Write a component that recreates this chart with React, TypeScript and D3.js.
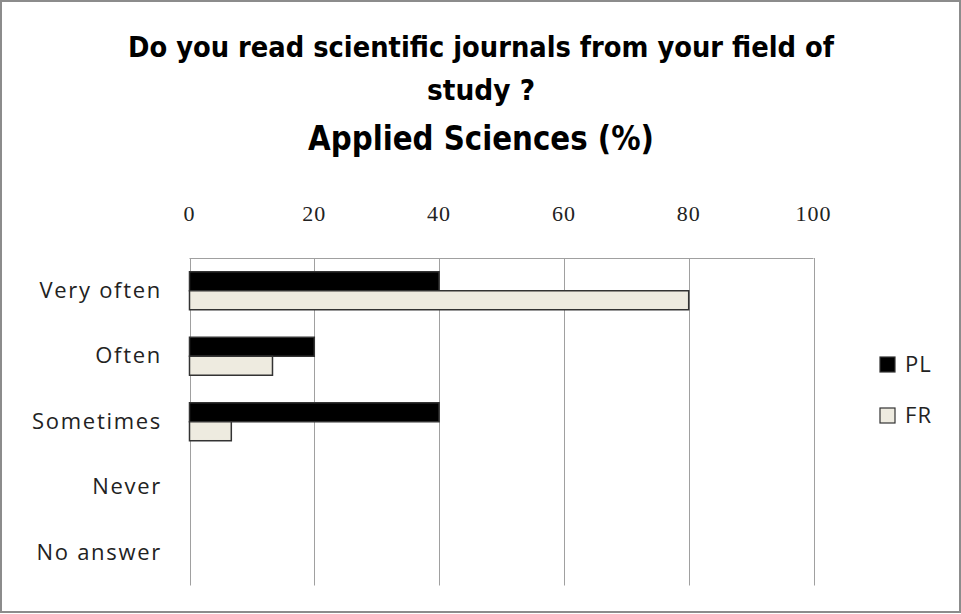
import React from "react";
import * as d3 from "d3";

const categories = ["Very often", "Often", "Sometimes", "Never", "No answer"];
const seriesNames = ["PL", "FR"];
const plValues = [40, 20, 40, 0, 0];
const frValues = [80, 13.3, 6.7, 0, 0];
const xTicks = [0, 20, 40, 60, 80, 100];
const titleLines = ["Do you read scientific journals from your field of", "study ?"];
const subtitle = "Applied Sciences (%)";

const W = 961;
const H = 614;
const colors: Record<string, string> = { PL: "#000000", FR: "#EEEBE0" };

export default function App() {
  const x = d3.scaleLinear().domain([0, 100]).range([189.5, 813.5]);
  const y = d3.scaleBand<string>().domain(categories).range([258, 585.5]).paddingInner(0.42).paddingOuter(0.21);
  const ys = d3.scaleBand<string>().domain(seriesNames).range([0, y.bandwidth()]);
  const data = categories.map((c, i) => ({ c, PL: plValues[i], FR: frValues[i] }));
  const plotTop = y.range()[0];
  const plotBottom = y.range()[1];
  const titleFont = "'DejaVu Sans Condensed', 'Liberation Sans Narrow', sans-serif";
  const labelFont = "'Open Sans', Lato, sans-serif";
  const tickFont = "'Liberation Serif', 'DejaVu Serif', serif";

  return (
    <svg width={W} height={H} style={{ position: "absolute", left: 0, top: 0, background: "#fff" }}>
      <rect x={1} y={1} width={W - 2} height={H - 3} fill="#fff" stroke="#8c8c8c" strokeWidth={2} />
      <text x={481} y={57} textAnchor="middle" fontFamily={titleFont} fontWeight="bold" fontSize={29} fill="#000" textLength={706} lengthAdjust="spacingAndGlyphs">{titleLines[0]}</text>
      <text x={481} y={100} textAnchor="middle" fontFamily={titleFont} fontWeight="bold" fontSize={29} fill="#000" textLength={108} lengthAdjust="spacingAndGlyphs">{titleLines[1]}</text>
      <text x={481} y={150} textAnchor="middle" fontFamily={titleFont} fontWeight="bold" fontSize={34} fill="#000" textLength={346} lengthAdjust="spacingAndGlyphs">{subtitle}</text>

      {xTicks.map((t) => (
        <g key={t}>
          <line x1={Math.round(x(t)) + 0.5} x2={Math.round(x(t)) + 0.5} y1={plotTop} y2={plotBottom} stroke="#a0a0a0" strokeWidth={1} />
          <text x={x(t)} y={221} textAnchor="middle" fontFamily={tickFont} fontSize={22} fill="#222" letterSpacing={1}>{t}</text>
        </g>
      ))}
      <line x1={x(0)} x2={x(100)} y1={plotTop + 0.5} y2={plotTop + 0.5} stroke="#a0a0a0" strokeWidth={1} />

      {data.map((d) => (
        <g key={d.c} transform={`translate(0,${y(d.c)})`}>
          {seriesNames.map((s) => {
            const v = (d as any)[s] as number;
            if (v <= 0) return null;
            return (
              <rect key={s} x={x(0)} y={ys(s)} width={x(v) - x(0)} height={ys.bandwidth()} fill={colors[s]} stroke="#333" strokeWidth={1.5} />
            );
          })}
          <text x={162} y={y.bandwidth() / 2 + 7} textAnchor="end" fontFamily={labelFont} fontSize={22} letterSpacing={1.7} fill="#222">{d.c}</text>
        </g>
      ))}

      {seriesNames.map((s, i) => (
        <g key={s} transform={`translate(880,${357 + i * 51})`}>
          <rect x={0} y={0} width={15} height={15} fill={colors[s]} stroke="#333" strokeWidth={1.2} />
          <text x={25} y={15} fontFamily={labelFont} fontSize={22} letterSpacing={1.1} fill="#222">{s}</text>
        </g>
      ))}
    </svg>
  );
}
